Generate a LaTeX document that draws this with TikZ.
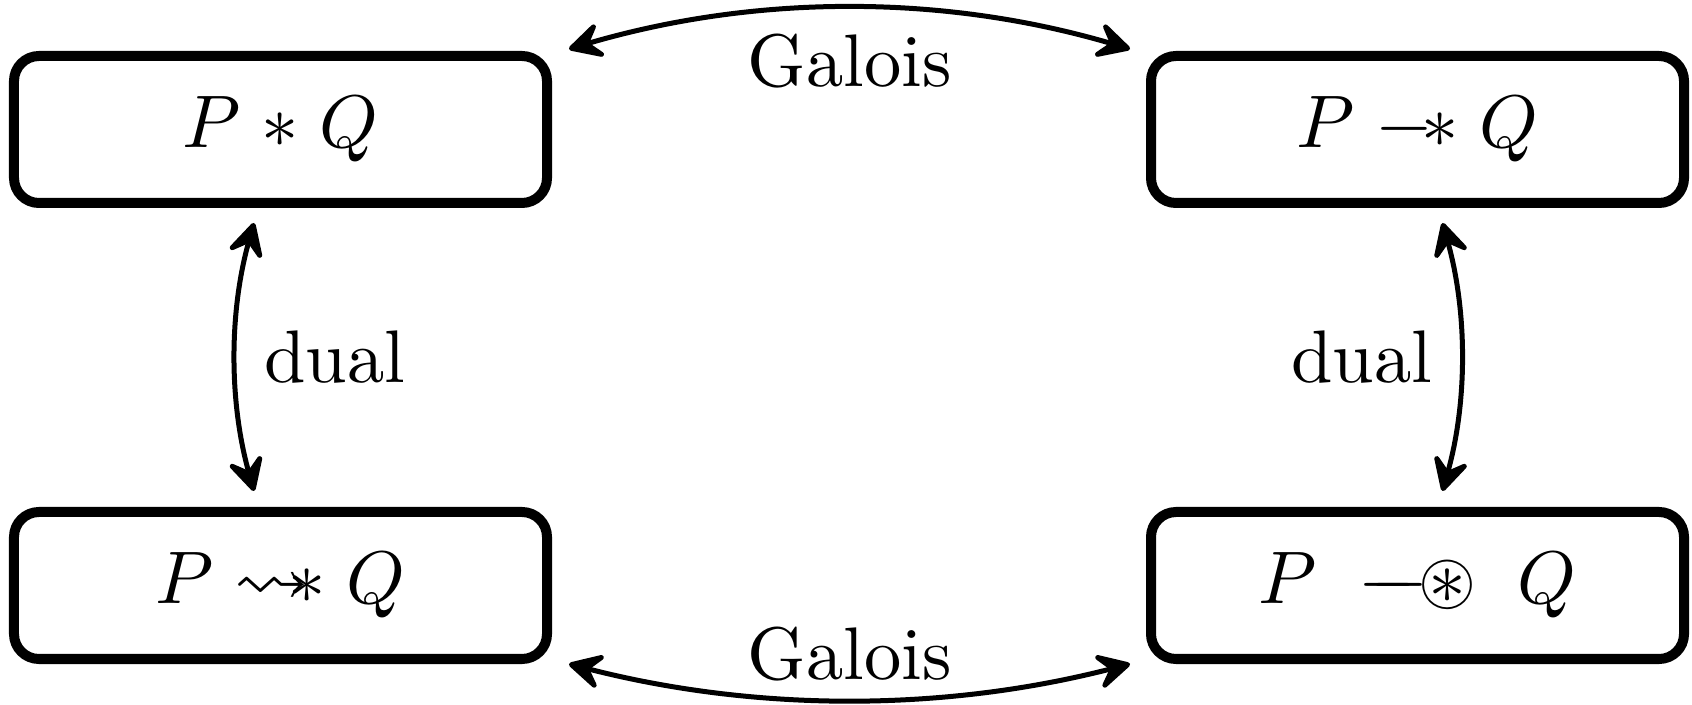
\documentclass[tikz,border=0pt]{standalone}
\usepackage{amssymb}
\usepackage{graphicx}
\usetikzlibrary{arrows.meta,calc}

% separating conjunction and its adjoints
\newcommand{\wandop}{\mathrel{{\relbar}\mkern-3mu{\ast}}}
\newcommand{\squigwand}{\mathrel{{\rightsquigarrow}\mkern-5mu{\ast}}}
\newcommand{\septraction}{\mathrel{{\relbar}\mkern-11mu{\relbar}\mkern-2.5mu{\circledast}}}
% labels are set at 10pt and enlarged
\newcommand{\enl}[1]{\scalebox{2.12}{#1}}

\tikzset{
  opbox/.style={draw, line width=0.1cm, rounded corners=0.25cm,
    minimum width=5.33cm, minimum height=1.47cm},
  tip/.tip={Stealth[length=0.42cm,width=0.44cm,inset=0.18cm,round]},
  link/.style={line width=0.05cm, tip-tip}
}

\begin{document}
\begin{tikzpicture}
\useasboundingbox (0,0) rectangle (16.92,-7.05);

\node[opbox] (tl) at (2.805,-1.295)  {\enl{$P \mathrel{\ast} Q$}};
\node[opbox] (tr) at (14.175,-1.295) {\enl{$P \wandop Q$}};
\node[opbox] (bl) at (2.805,-5.855)  {\enl{$P \squigwand Q$}};
\node[opbox] (br) at (14.175,-5.855) {\enl{$P \;\septraction\; Q$}};

% Galois connections between the top and bottom pairs
\draw[link] ($(tl.north east)+(0.17,0.02)$)
  .. controls +(1.87,0.55) and +(-1.87,0.55) ..
  node[midway, below=0.12cm] {\enl{Galois}}
  ($(tr.north west)+(-0.16,0.02)$);
\draw[link] ($(bl.south east)+(0.17,0)$)
  .. controls +(1.87,-0.48) and +(-1.87,-0.48) ..
  node[midway, above=0.05cm] {\enl{Galois}}
  ($(br.south west)+(-0.16,0)$);

% duality between the upper and lower operators
\draw[link] ($(tl.south)+(-0.265,-0.15)$)
  .. controls +(-0.25,-0.89) and +(-0.25,0.89) ..
  node[midway, right=0.15cm] {\enl{dual}}
  ($(bl.north)+(-0.265,0.16)$);
\draw[link] ($(tr.south)+(0.25,-0.15)$)
  .. controls +(0.25,-0.89) and +(0.25,0.89) ..
  node[midway, left=0.15cm] {\enl{dual}}
  ($(br.north)+(0.25,0.16)$);
\end{tikzpicture}
\end{document}
